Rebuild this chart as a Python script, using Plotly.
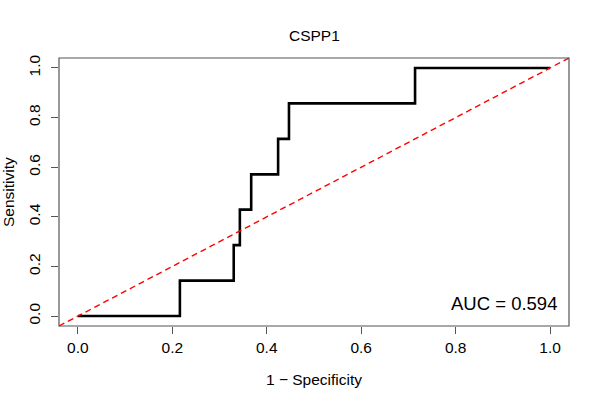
import plotly.graph_objects as go

# ROC step breakpoints (1 - specificity, sensitivity)
fpr = [0.0, 0.216, 0.330, 0.343, 0.367, 0.424, 0.447, 0.714, 1.0]
tpr = [0.0, 0.143, 0.286, 0.429, 0.571, 0.714, 0.857, 1.0, 1.0]
tick_vals = [0.0, 0.2, 0.4, 0.6, 0.8, 1.0]
tick_text = ["0.0", "0.2", "0.4", "0.6", "0.8", "1.0"]
title_text = "CSPP1"
auc_text = "AUC = 0.594"

FONT = "Liberation Sans, Arial, Helvetica, sans-serif"

fig = go.Figure()
fig.add_trace(go.Scatter(
    x=fpr, y=tpr, mode="lines", line_shape="hv",
    line=dict(color="black", width=2.6), showlegend=False, hoverinfo="skip",
))

# diagonal reference line (abline 0,1) across the whole plotting region
fig.add_shape(type="line", xref="x domain", yref="y domain", x0=0, y0=0, x1=1, y1=1,
              line=dict(color="#ff0000", width=1.4, dash="6px,4px"))
# box
fig.add_shape(type="rect", xref="paper", yref="paper", x0=0, y0=0, x1=1, y1=1,
              line=dict(color="#555555", width=1.2))

axis_common = dict(
    range=[-0.04, 1.04], tickvals=tick_vals, ticktext=tick_text,
    ticks="outside", ticklen=7, tickwidth=1, tickcolor="#555555",
    showgrid=False, zeroline=False, showline=False,
    tickfont=dict(family=FONT, size=15.5, color="black"),
)
fig.update_xaxes(**axis_common)
fig.update_yaxes(**axis_common, tickangle=-90, ticklabelstandoff=5)

fig.add_annotation(text=auc_text, xref="paper", yref="y", x=(559.3 - 59.3) / 510, y=-0.0,
                   xanchor="right", yanchor="bottom", showarrow=False,
                   font=dict(family=FONT, size=18.5, color="black"))
fig.add_annotation(text=title_text, xref="paper", yref="paper", x=0.5, y=1, yshift=23,
                   xanchor="center", yanchor="middle", showarrow=False,
                   font=dict(family=FONT, size=15.5, color="black"))
fig.add_annotation(text="1 − Specificity", xref="paper", yref="paper", x=0.5, y=0, yshift=-53,
                   xanchor="center", yanchor="middle", showarrow=False,
                   font=dict(family=FONT, size=15.5, color="black"))
fig.add_annotation(text="Sensitivity", xref="paper", yref="paper", x=0, y=0.5, xshift=-51,
                   xanchor="center", yanchor="middle", textangle=-90, showarrow=False,
                   font=dict(family=FONT, size=15.5, color="black"))

fig.update_layout(
    width=600, height=400,
    margin=dict(l=59, r=31, t=58, b=74),
    paper_bgcolor="white", plot_bgcolor="white",
    font=dict(family=FONT, color="black"),
)

fig.write_html("out.html", config={"displayModeBar": False},
               post_script="document.body.style.margin='0';document.body.style.padding='0';")
